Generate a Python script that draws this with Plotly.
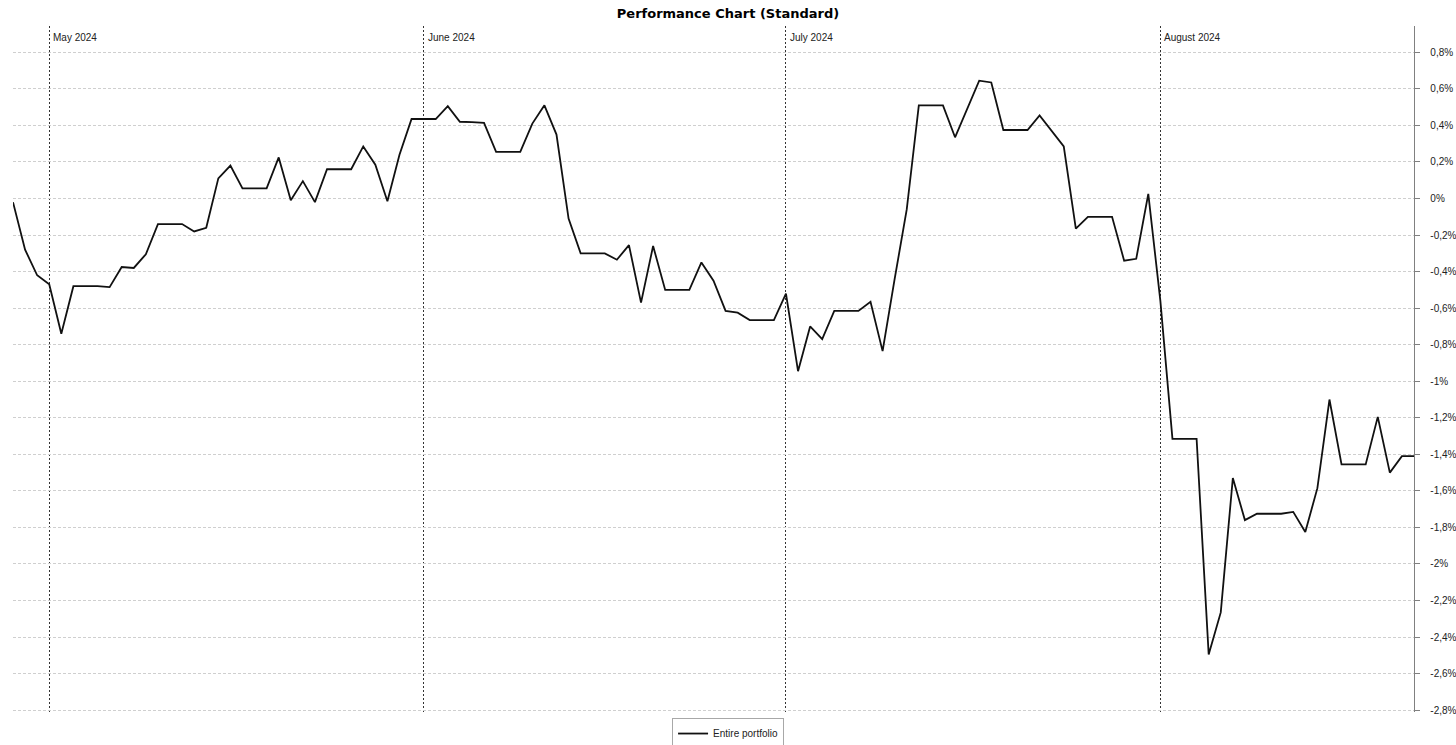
import pandas as pd
import plotly.graph_objects as go

# ---- data (daily, weekends carry the Friday value) ----
start_date = "2024-04-28"
end_date = "2024-08-22"

values_apr = [-0.02, -0.28, -0.42]  # Apr 28-30
values_may = [-0.47, -0.74, -0.48, -0.48, -0.48, -0.485, -0.375, -0.38, -0.305, -0.14,
              -0.14, -0.14, -0.18, -0.16, 0.11, 0.18, 0.055, 0.055, 0.055, 0.225,
              -0.01, 0.095, -0.02, 0.16, 0.16, 0.16, 0.285, 0.185, -0.015, 0.24, 0.435]
values_jun = [0.435, 0.435, 0.505, 0.42, 0.418, 0.414, 0.255, 0.255, 0.255, 0.41,
              0.51, 0.35, -0.11, -0.30, -0.30, -0.30, -0.335, -0.255, -0.57, -0.26,
              -0.50, -0.50, -0.50, -0.35, -0.45, -0.615, -0.625, -0.665, -0.665, -0.665]
values_jul = [-0.52, -0.945, -0.70, -0.77, -0.615, -0.615, -0.615, -0.565, -0.835, -0.44,
              -0.06, 0.51, 0.51, 0.51, 0.335, 0.49, 0.645, 0.635, 0.375, 0.375,
              0.375, 0.455, 0.37, 0.285, -0.165, -0.10, -0.10, -0.10, -0.34, -0.33, 0.025]
values_aug = [-0.56, -1.315, -1.315, -1.315, -2.495, -2.265, -1.53, -1.76, -1.725, -1.725,
              -1.725, -1.715, -1.825, -1.585, -1.10, -1.455, -1.455, -1.455, -1.195, -1.50,
              -1.41, -1.41]

month_starts = ["2024-05-01", "2024-06-01", "2024-07-01", "2024-08-01"]
month_labels = ["May 2024", "June 2024", "July 2024", "August 2024"]

y_tick_vals = [0.8, 0.6, 0.4, 0.2, 0, -0.2, -0.4, -0.6, -0.8, -1, -1.2, -1.4, -1.6,
               -1.8, -2, -2.2, -2.4, -2.6, -2.8]
y_tick_text = ["0,8%", "0,6%", "0,4%", "0,2%", "0%", "-0,2%", "-0,4%", "-0,6%", "-0,8%",
               "-1%", "-1,2%", "-1,4%", "-1,6%", "-1,8%", "-2%", "-2,2%", "-2,4%",
               "-2,6%", "-2,8%"]

series_name = "Entire portfolio"
title_text = "Performance Chart (Standard)"

# ---- build ----
dates = pd.date_range(start_date, end_date, freq="D")
values = values_apr + values_may + values_jun + values_jul + values_aug

FONT = "Liberation Sans, Arial, sans-serif"

fig = go.Figure()
fig.add_trace(go.Scatter(
    x=dates, y=values, mode="lines", name=series_name,
    line=dict(color="#111111", width=1.8),
    showlegend=True,
))

for d, lab in zip(month_starts, month_labels):
    fig.add_annotation(
        x=d, xref="x", y=1, yref="paper", yanchor="top", xanchor="left",
        text=lab, showarrow=False, xshift=2, yshift=-4,
        font=dict(family=FONT, size=10, color="#222222"),
    )

fig.update_layout(
    width=1456, height=745,
    margin=dict(l=13, r=42, t=26, b=33, autoexpand=False),
    paper_bgcolor="white", plot_bgcolor="white",
    title=dict(text=title_text, x=0.5, xanchor="center", y=1 - 13 / 745,
               yanchor="middle", yref="container",
               font=dict(family="DejaVu Sans, Verdana, sans-serif", size=13,
                         color="#000000", weight="bold")),
    font=dict(family=FONT, size=10, color="#222222"),
    showlegend=True,
    legend=dict(x=0.5104, xanchor="center", y=-0.0088, yanchor="top",
                orientation="v", bordercolor="#a8a8a8", borderwidth=1,
                bgcolor="white", font=dict(family=FONT, size=10, color="#222222"),
                itemwidth=30, tracegroupgap=0),
    xaxis=dict(
        type="date", range=[start_date, end_date], automargin=False,
        tickvals=month_starts, showticklabels=False, ticks="",
        showgrid=True, gridcolor="#333333", gridwidth=1, griddash="2px,2px",
        zeroline=False, showline=False,
    ),
    yaxis=dict(
        side="right", range=[-2.81, 0.944], automargin=False,
        tickvals=y_tick_vals, ticktext=["&nbsp;&nbsp;&nbsp;" + t for t in y_tick_text],
        showgrid=True, gridcolor="#cfcfcf", gridwidth=1, griddash="3px,2px",
        zeroline=False, showline=True, linecolor="#808080", linewidth=1,
        ticks="outside", ticklen=5, tickcolor="#808080",
        tickfont=dict(family=FONT, size=10, color="#222222"),
    ),
)

fig.write_html("out.html", config={"displayModeBar": False},
               post_script="document.body.style.margin='0px';")
